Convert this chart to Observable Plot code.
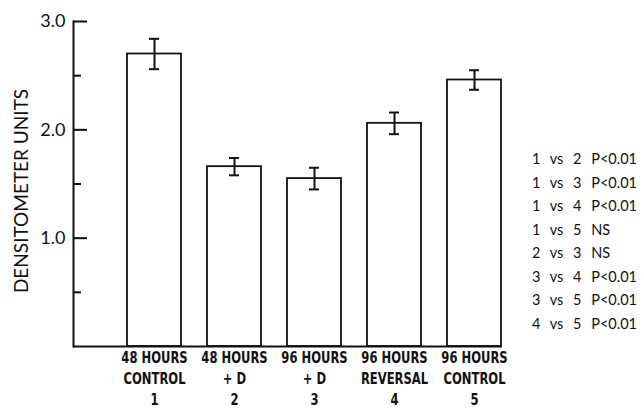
<!DOCTYPE html>
<html>
<head>
<meta charset="utf-8">
<script src="https://cdn.jsdelivr.net/npm/d3@7"></script>
<script src="https://cdn.jsdelivr.net/npm/@observablehq/plot@0.6"></script>
<style>
  html, body { margin: 0; padding: 0; background: #fff; }
  #wrap { position: relative; width: 644px; height: 411px; }
  #notes {
    position: absolute; left: 532px; top: 147px;
    font-family: Lato, "Open Sans", sans-serif; font-size: 14.5px;
    line-height: 23.5px; color: #111; word-spacing: 6px; white-space: pre;
  }
</style>
</head>
<body>
<div id="wrap"><div id="notes"></div></div>
<script>
// Data
const groups = [1, 2, 3, 4, 5];
const labelLine1 = ["48 HOURS", "48 HOURS", "96 HOURS", "96 HOURS", "96 HOURS"];
const labelLine2 = ["CONTROL", "+ D", "+ D", "REVERSAL", "CONTROL"];
const labelNum = ["1", "2", "3", "4", "5"];
const means = [2.70, 1.66, 1.55, 2.06, 2.46];
const errs = [0.14, 0.08, 0.10, 0.10, 0.09];
const majorTicks = [1, 2, 3];
const minorTicks = [0.5, 1.5, 2.5];
const comparisons = [
  "1 vs 2 P<0.01", "1 vs 3 P<0.01", "1 vs 4 P<0.01", "1 vs 5 NS",
  "2 vs 3 NS", "3 vs 4 P<0.01", "3 vs 5 P<0.01", "4 vs 5 P<0.01"
];

const rows = groups.map((g, i) => ({
  g, mean: means[i], lo: means[i] - errs[i], hi: means[i] + errs[i],
  label: labelLine1[i] + "\n" + labelLine2[i] + "\n" + labelNum[i]
}));

const ink = "#111";
const chart = Plot.plot({
  width: 644,
  height: 411,
  marginLeft: 73,
  marginRight: 142,
  marginTop: 21,
  marginBottom: 65,
  style: {background: "white", color: ink},
  x: {type: "band", domain: groups, range: [125, 502], paddingInner: 0.33, paddingOuter: 0, axis: null},
  y: {domain: [0, 3], axis: null},
  marks: [
    Plot.barY(rows, {x: "g", y: "mean", fill: "white", stroke: ink, strokeWidth: 1.8}),
    Plot.ruleX(rows, {x: "g", y1: "lo", y2: "hi", stroke: ink, strokeWidth: 2}),
    Plot.tickY(rows, {x: "g", y: "lo", stroke: ink, strokeWidth: 2, insetLeft: 22, insetRight: 22}),
    Plot.tickY(rows, {x: "g", y: "hi", stroke: ink, strokeWidth: 2, insetLeft: 22, insetRight: 22}),
    Plot.ruleY([0], {stroke: ink, strokeWidth: 2}),
    Plot.frame({anchor: "left", stroke: ink, strokeWidth: 2}),
    Plot.axisY({ticks: majorTicks, tickSize: -14, tickFormat: () => "", strokeWidth: 2, stroke: ink}),
    Plot.axisY({ticks: minorTicks, tickSize: -8, tickFormat: () => "", strokeWidth: 2, stroke: ink}),
    Plot.axisY({ticks: majorTicks, tickSize: 0, tickPadding: 8, tickFormat: d3.format(".1f"),
      fontSize: 18, fontFamily: "Lato, sans-serif", label: null}),
    Plot.text(rows, {x: "g", text: "label", frameAnchor: "bottom", lineAnchor: "top", dy: 2,
      lineHeight: 1.27, fontSize: 16.5, fontWeight: "bold", className: "xlab",
      fontFamily: "'Liberation Sans Narrow', 'DejaVu Sans Condensed', 'DejaVu Sans', sans-serif", fill: ink}),
    Plot.text(["DENSITOMETER UNITS"], {text: d => d, frameAnchor: "left", textAnchor: "middle", rotate: -90, dx: -52, dy: 7,
      fontSize: 19, fontFamily: "Lato, sans-serif", fill: ink})
  ]
});
document.getElementById("wrap").prepend(chart);
// condense the bold category labels horizontally
chart.querySelectorAll("g.xlab text, .xlab text").forEach(t => {
  const tr = t.getAttribute("transform");
  if (tr && !tr.includes("scale")) t.setAttribute("transform", tr + " scale(0.78,1)");
});
document.getElementById("notes").textContent = comparisons.join("\n");
</script>
</body>
</html>
